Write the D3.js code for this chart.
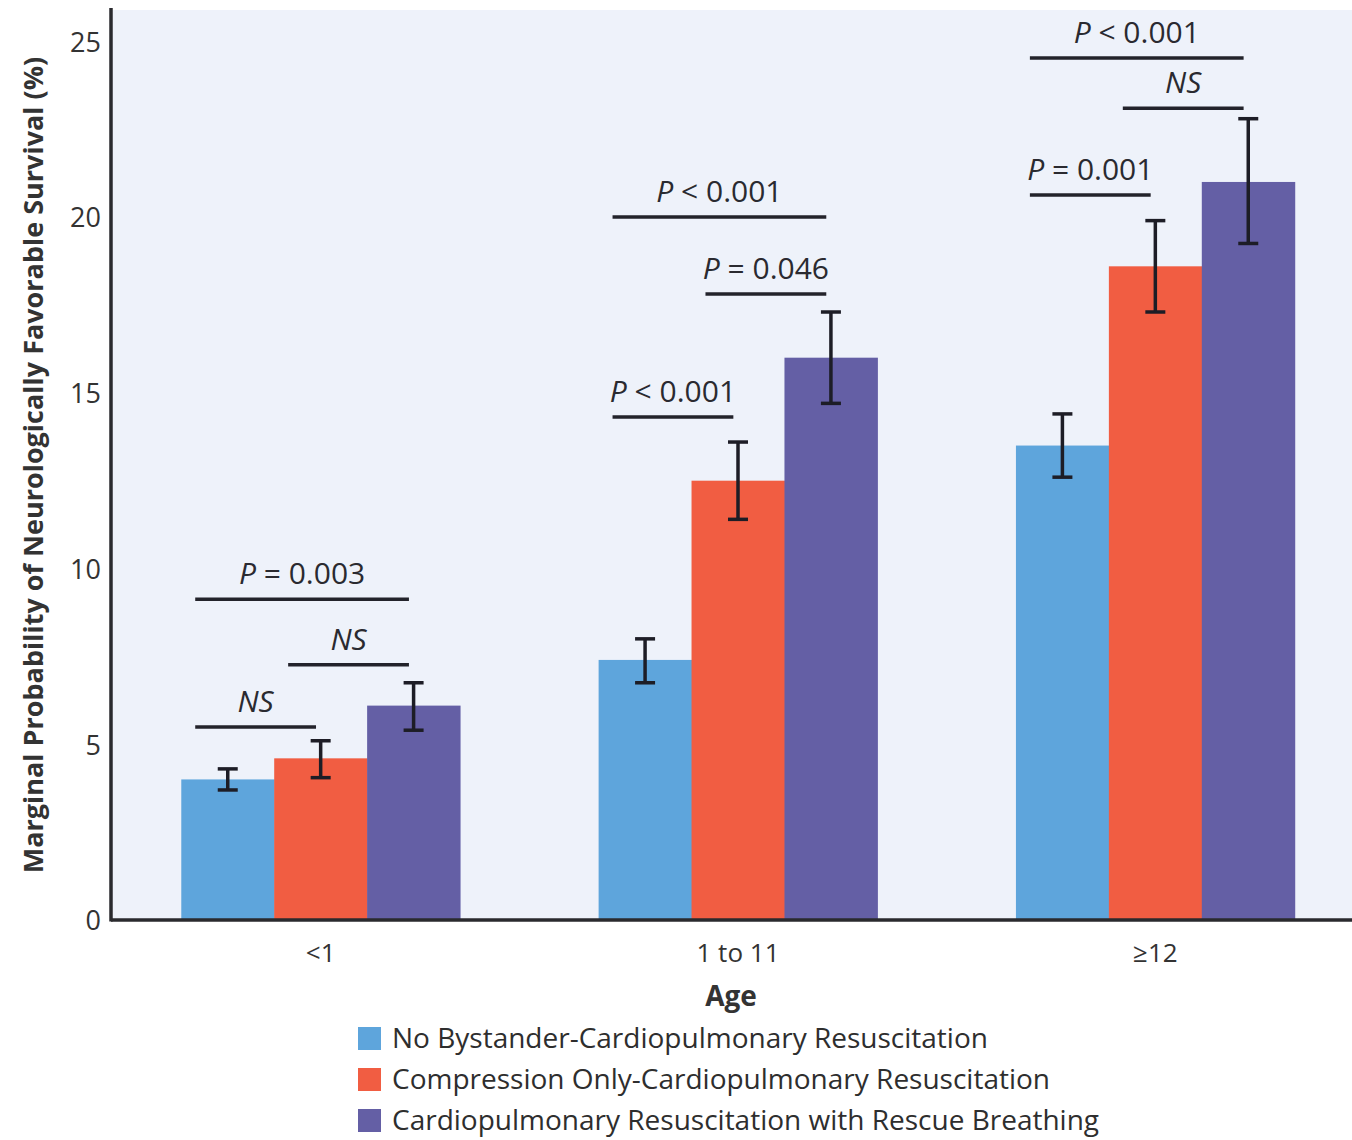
<!DOCTYPE html>
<html><head><meta charset="utf-8">
<script src="https://cdn.jsdelivr.net/npm/d3@7/dist/d3.min.js"></script>
<style>body{margin:0;background:#fff}svg{display:block}text{font-family:"Open Sans",sans-serif}</style>
</head><body><svg id="c" width="1352" height="1140"></svg>
<script>
const categories = ["<1", "1 to 11", "\u226512"];
const series = ["No Bystander-Cardiopulmonary Resuscitation", "Compression Only-Cardiopulmonary Resuscitation", "Cardiopulmonary Resuscitation with Rescue Breathing"];
const valuesNone = [4.0, 7.4, 13.5];
const valuesCompression = [4.6, 12.5, 18.6];
const valuesRescue = [6.1, 16.0, 21.0];
const lowNone = [3.7, 6.75, 12.6];
const highNone = [4.3, 8.0, 14.4];
const lowCompression = [4.05, 11.4, 17.3];
const highCompression = [5.1, 13.6, 19.9];
const lowRescue = [5.4, 14.7, 19.25];
const highRescue = [6.75, 17.3, 22.8];
const yTicks = [0, 5, 10, 15, 20, 25];
// significance annotations: group, from series, to series, level (%), label
const annGroup = [0, 0, 0, 1, 1, 1, 2, 2, 2];
const annFrom = [0, 1, 0, 0, 1, 0, 0, 1, 0];
const annTo = [1, 2, 2, 1, 2, 2, 1, 2, 2];
const annLevel = [5.49, 7.26, 9.13, 14.31, 17.81, 20.0, 20.63, 23.1, 24.53];
const annLabel = ["NS", "NS", "P = 0.003", "P < 0.001", "P = 0.046", "P < 0.001", "P = 0.001", "NS", "P < 0.001"];

const colors = ["#5ea5dc", "#f15d42", "#645fa5"];
const vals = [valuesNone, valuesCompression, valuesRescue];
const lows = [lowNone, lowCompression, lowRescue];
const highs = [highNone, highCompression, highRescue];

(function () {
const svg = d3.select("#c");
const mLeft = 111, mBottom = 920, mTop = 8, mRight = 1352;
const y = d3.scaleLinear().domain([0, 25.95]).range([mBottom, mTop]);
const x = d3.scaleBand().domain(categories).range([112, 1364]).paddingInner(0.332).paddingOuter(0.166);
const xs = d3.scaleBand().domain(d3.range(3)).range([0, x.bandwidth()]).padding(0);

svg.append("rect").attr("x", mLeft).attr("y", 10).attr("width", mRight - mLeft).attr("height", mBottom - 10).attr("fill", "#eef2fa");

const data = [];
categories.forEach((c, gi) => series.forEach((s, si) => data.push({c, gi, si, v: vals[si][gi], lo: lows[si][gi], hi: highs[si][gi]})));

svg.append("g").selectAll("rect").data(data).join("rect")
  .attr("x", d => x(d.c) + xs(d.si)).attr("width", xs.bandwidth() + 0.5)
  .attr("y", d => y(d.v)).attr("height", d => y(0) - y(d.v)).attr("fill", d => colors[d.si]);

const cx = d => x(d.c) + xs(d.si) + xs.bandwidth() / 2;
const eb = svg.append("g").attr("stroke", "#1d1d26").attr("stroke-width", 3.5);
eb.selectAll(".v").data(data).join("line").attr("class", "v").attr("x1", cx).attr("x2", cx).attr("y1", d => y(d.lo)).attr("y2", d => y(d.hi));
eb.selectAll(".t").data(data).join("line").attr("class", "t").attr("x1", d => cx(d) - 10).attr("x2", d => cx(d) + 10).attr("y1", d => y(d.hi)).attr("y2", d => y(d.hi));
eb.selectAll(".b").data(data).join("line").attr("class", "b").attr("x1", d => cx(d) - 10).attr("x2", d => cx(d) + 10).attr("y1", d => y(d.lo)).attr("y2", d => y(d.lo));

// axes
const yAxis = d3.axisLeft(y).tickValues(yTicks).tickSize(0).tickPadding(10);
const gy = svg.append("g").attr("transform", `translate(${mLeft},0)`).call(yAxis);
gy.select(".domain").remove();
gy.selectAll("text").attr("font-size", 27).attr("fill", "#333").attr("dy", "0.36em");
svg.append("line").attr("x1", mLeft).attr("x2", mLeft).attr("y1", mTop).attr("y2", mBottom + 1.5).attr("stroke", "#2a2a2e").attr("stroke-width", 3.5);

const xAxis = d3.axisBottom(x).tickSize(0).tickPadding(24);
const gx = svg.append("g").attr("transform", `translate(0,${mBottom})`).call(xAxis);
gx.select(".domain").remove();
gx.selectAll("text").attr("font-size", 26).attr("fill", "#333");
svg.append("line").attr("x1", mLeft).attr("x2", mRight).attr("y1", mBottom).attr("y2", mBottom).attr("stroke", "#2a2a2e").attr("stroke-width", 3.5);

svg.append("text").attr("x", 731).attr("y", 1006).attr("text-anchor", "middle").attr("font-size", 28).attr("font-weight", 700).attr("fill", "#333").text("Age");
svg.append("text").attr("transform", `translate(43,465) rotate(-90)`).attr("text-anchor", "middle").attr("font-size", 27).attr("font-weight", 700).attr("fill", "#333").text("Marginal Probability of Neurologically Favorable Survival (%)");

// annotations
const ann = annLabel.map((l, i) => {
  const c = categories[annGroup[i]];
  const x1 = x(c) + xs(annFrom[i]) + xs.bandwidth() * 0.15;
  const x2 = x(c) + xs(annTo[i]) + xs.bandwidth() * 0.45;
  return {l, x1, x2, yy: y(annLevel[i])};
});
const ga = svg.append("g");
ga.selectAll("line").data(ann).join("line").attr("x1", d => d.x1).attr("x2", d => d.x2).attr("y1", d => d.yy).attr("y2", d => d.yy).attr("stroke", "#23232b").attr("stroke-width", 3.5);
const at = ga.selectAll("text").data(ann).join("text").attr("x", d => (d.x1 + d.x2) / 2).attr("y", d => d.yy - 15)
  .attr("text-anchor", "middle").attr("font-size", 30).attr("fill", "#2a2a30");
at.each(function(d) {
  const t = d3.select(this);
  if (d.l === "NS") { t.append("tspan").attr("font-style", "italic").text("NS"); }
  else { t.append("tspan").attr("font-style", "italic").text("P"); t.append("tspan").text(d.l.slice(1)); }
});

// legend
const lg = svg.append("g").selectAll("g").data(series).join("g").attr("transform", (d, i) => `translate(358,${1027 + i * 41})`);
lg.append("rect").attr("width", 23).attr("height", 23).attr("fill", (d, i) => colors[i]);
lg.append("text").attr("x", 34).attr("y", 20.5).attr("font-size", 28).attr("fill", "#2e2e2e").text(d => d);
})();
</script></body></html>
